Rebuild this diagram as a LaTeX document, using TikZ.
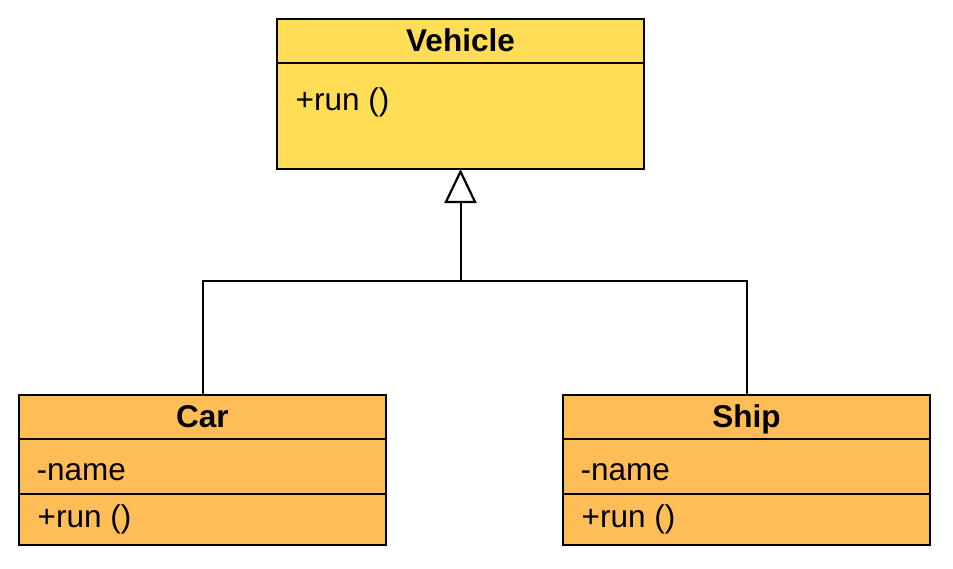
\documentclass[tikz,border=0pt]{standalone}
\usepackage{fontspec}
\setmainfont{Liberation Sans}
\usetikzlibrary{positioning, arrows.meta}
\definecolor{vehyellow}{HTML}{FFDD57}
\definecolor{suborange}{HTML}{FFBD57}
\tikzset{
  classname/.style={rectangle, draw=black, line width=2pt, outer sep=0pt, inner sep=0pt, minimum width=367pt, minimum height=44pt, text height=21.5pt, text depth=0pt, font=\fontsize{31.5}{37}\selectfont\bfseries},
  classpart/.style={rectangle, draw=black, line width=2pt, outer sep=0pt, inner sep=0pt, minimum width=367pt},
  member/.style={anchor=base west, inner sep=0pt, font=\fontsize{31.5}{37}\selectfont},
  inherit/.style={line width=2pt, -{Triangle[open, fill=white, length=34pt, width=32pt, line width=2.2pt]}},
  link/.style={line width=2pt}
}
\begin{document}
\begin{tikzpicture}[x=1pt, y=-1pt]
\useasboundingbox (0,0) rectangle (953,568);
%Vehicle
\node(vehicle)[classname, fill=vehyellow] at (460.5,41) {Vehicle};
\node(vehicleops)[classpart, fill=vehyellow, minimum height=106pt, below=0pt of vehicle]{};
\node(vehiclerun)[member] at (295.5,110.5) {+run ()};

%Car
\node(car)[classname, fill=suborange] at (202.5,416.5) {Car};
\node(carattr)[classpart, fill=suborange, minimum height=55pt, below=0pt of car]{};
\node(carops)[classpart, fill=suborange, minimum height=51pt, below=0pt of carattr]{};
\node(carname)[member] at (36.5,480.5) {-name};
\node(carrun)[member] at (37.5,527.5) {+run ()};

%Ship
\node(ship)[classname, fill=suborange] at (746.5,416.5) {Ship};
\node(shipattr)[classpart, fill=suborange, minimum height=55pt, below=0pt of ship]{};
\node(shipops)[classpart, fill=suborange, minimum height=51pt, below=0pt of shipattr]{};
\node(shipname)[member] at (580.5,480.5) {-name};
\node(shiprun)[member] at (581.5,527.5) {+run ()};

%arrows
\coordinate(bus) at (460.5,281);
\draw[link](car.north) |- (bus) -| (ship.north);
\draw[inherit](bus) -- (vehicleops.south);
\end{tikzpicture}
\end{document}
